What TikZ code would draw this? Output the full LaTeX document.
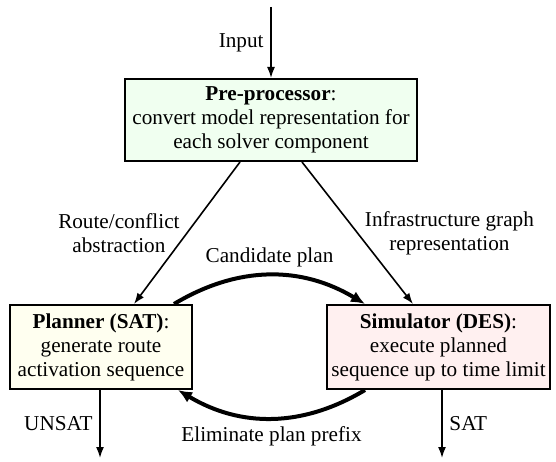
\documentclass[tikz,border=0pt]{standalone}
\usepackage{fontspec}
\setmainfont{Liberation Serif}
\usetikzlibrary{arrows.meta,calc}
\definecolor{preclr}{RGB}{240,255,240}
\definecolor{planclr}{RGB}{255,255,240}
\definecolor{simclr}{RGB}{255,240,240}

\begin{document}
\begin{tikzpicture}[x=0.5pt,y=0.5pt,
  font=\fontsize{10.6}{12}\selectfont,
  box/.style={draw,line width=1pt,align=center,inner sep=0pt},
  flow/.style={-{Latex[length=5.5pt,width=4pt]},line width=0.8pt},
  loopflow/.style={-{Latex[length=7pt,width=6pt]},line width=2pt}]
\useasboundingbox (0,0) rectangle (556,461);
\node[box,fill=preclr,minimum width=146pt,minimum height=41pt] (pre) at (271,341)
  {\textbf{Pre-processor}:\\convert model representation for\\each solver component};
\node[box,fill=planclr,minimum width=91pt,minimum height=42pt] (plan) at (101,114)
  {\textbf{Planner (SAT)}:\\generate route\\activation sequence};
\node[box,fill=simclr,minimum width=111.5pt,minimum height=42pt] (sim) at (438.5,114)
  {\textbf{Simulator (DES)}:\\execute planned\\sequence up to time limit};
\coordinate (in) at (271,454);
\coordinate (unsat) at (100,3);
\coordinate (sat) at (442,3);
\draw[flow] (in) -- node[left] {Input} (pre);
\draw[flow] ($(pre.south)+(-31,0)$) -- node[left,align=center] {Route/conflict\\abstraction} ($(plan.north)+(33,0)$);
\draw[flow] ($(pre.south)+(31,0)$) -- node[right,align=center] {Infrastructure graph\\representation} ($(sim.north)+(-25.5,0)$);
\draw[loopflow] ($(plan.north east)+(-19,0)$) to[bend left=31] node[above] {Candidate plan} ($(sim.north west)+(39,0)$);
\draw[loopflow] ($(sim.south west)+(39,0)$) to[bend left=31] node[below] {Eliminate plan prefix} ($(plan.south east)+(-15,0)$);
\draw[flow] (plan.south -| unsat) -- node[left] {UNSAT} (unsat);
\draw[flow] (sim.south -| sat) -- node[right] {SAT} (sat);
\end{tikzpicture}
\end{document}
